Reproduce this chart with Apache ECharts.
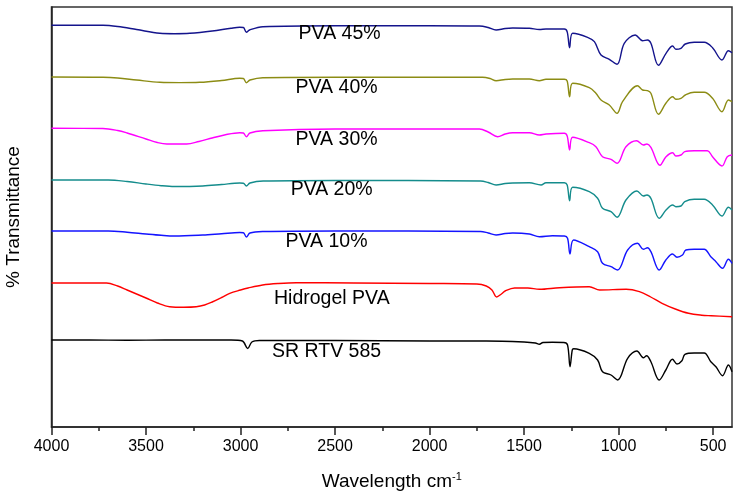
<!DOCTYPE html>
<html>
<head>
<meta charset="utf-8">
<script src="https://cdn.jsdelivr.net/npm/echarts@6/dist/echarts.min.js"></script>
<style>html,body{margin:0;padding:0;background:#fff}#c{width:733px;height:495px}</style>
</head>
<body>
<div id="c"></div>
<script>
// Wavenumber ticks (cm-1)
const majorTicks = [4000, 3500, 3000, 2500, 2000, 1500, 1000, 500];
const minorTicks = [3750, 3250, 2750, 2250, 1750, 1250, 750];
const seriesNames = ['PVA 45%', 'PVA 40%', 'PVA 30%', 'PVA 20%', 'PVA 10%', 'Hidrogel PVA', 'SR RTV 585'];
const seriesColors = ['#14148c', '#8c8c14', '#ff00ff', '#148c8c', '#1414ff', '#ff0000', '#000000'];
// label anchors [wavenumber, offset transmittance]
const labelPos = [[2476, 393], [2492, 339], [2492, 287], [2518, 237], [2545, 185], [2517, 128], [2545, 75]];

// Spectra: [wavenumber, offset % transmittance]
const pva45 = [[4000,401.7],[3728,401.7],[3650,400.5],[3550,397.5],[3427,393.7],[3350,393.3],[3268,393.7],[3150,396],[3050,398.8],[3004,399.7],[2985,399.5],[2969,394.7],[2952,397],[2882,400.3],[2500,401.3],[2000,401.3],[1736,401],[1690,399.5],[1648,397],[1600,398.5],[1560,399],[1472,398.7],[1419,397.5],[1384,398],[1287,398],[1272,395.3],[1259,379.3],[1243,393.7],[1164,389.7],[1128,385.3],[1093,372],[1049,367.7],[1008,362.7],[970,383.7],[912,392],[873,386.3],[847,387],[829,383.7],[789,361.7],[749,373.7],[714,381],[697,377.7],[670,378.7],[647,383],[600,384.7],[547,384.7],[503,379.3],[453,367],[419,376.3],[400,374.3]];
const pva40 = [[4000,350],[3728,349.7],[3650,349],[3550,347],[3427,344.7],[3320,344.4],[3216,344.7],[3100,346.5],[3004,348.7],[2985,348.5],[2969,344.3],[2950,347],[2882,349.3],[2500,349.7],[1720,349.7],[1680,348.5],[1648,346.3],[1600,347.5],[1560,348],[1472,348],[1419,346.3],[1384,347.7],[1287,347.7],[1272,346],[1259,330.3],[1243,343.7],[1155,339.3],[1120,333.7],[1093,327],[1049,322],[1008,313.7],[979,325.3],[900,341.3],[873,337],[847,336.3],[829,333.7],[789,312.7],[749,324],[714,330.3],[697,327.7],[670,328.7],[647,332],[600,334.7],[547,334.7],[503,328.7],[453,315.3],[419,327],[400,325.3]];
const pva30 = [[4000,298.7],[3728,298.5],[3650,296.5],[3600,294],[3500,288],[3440,284.5],[3390,283],[3285,283],[3220,285.5],[3150,289],[3080,292.3],[3004,294.3],[2985,294],[2969,290.3],[2950,294],[2882,296.3],[2500,298],[1736,298],[1690,295],[1640,290.3],[1600,293],[1560,294.3],[1472,294.3],[1419,292],[1384,293],[1287,293.7],[1272,291],[1259,277],[1243,289.7],[1155,284.3],[1120,280.3],[1085,270.3],[1040,267.7],[1008,263.7],[961,280.3],[905,286.3],[869,282],[850,283],[829,279.7],[781,261.7],[749,270.3],[714,274.3],[697,271],[670,272],[650,275.3],[600,276.3],[530,276.3],[503,270.3],[453,261],[425,270.3],[400,272]];
const pva20 = [[4000,247],[3700,247],[3600,245.5],[3500,243],[3420,241.3],[3350,240.5],[3200,241],[3100,242.5],[3004,244],[2985,243.8],[2969,241],[2950,244],[2880,246],[2500,246.5],[1730,246],[1690,244.5],[1648,242],[1600,243.5],[1560,244],[1472,244.3],[1410,242],[1384,244.3],[1287,244.3],[1272,242],[1259,226.3],[1243,239.7],[1155,235.3],[1111,228.7],[1085,218.7],[1040,215.3],[1008,209.7],[961,227],[903,236],[869,231],[850,232],[829,228.7],[785,208.7],[749,217],[714,222],[697,220.3],[670,221],[650,225.3],[600,227.7],[547,227.7],[503,222],[453,211],[419,219.7],[400,217]];
const pva10 = [[4000,196],[3700,196],[3600,194.8],[3500,193],[3420,191.7],[3350,191],[3200,192],[3100,193.3],[3004,194.5],[2985,194.3],[2969,190],[2950,194],[2880,195.5],[2500,196],[1730,195.5],[1690,194],[1648,192],[1600,193.5],[1560,194],[1472,193],[1419,190.3],[1350,191.3],[1287,191],[1270,188.7],[1257,173],[1238,187],[1155,180.3],[1111,175.3],[1085,163.7],[1040,160.3],[1005,157],[952,177],[900,183.7],[869,177.7],[847,179.3],[829,175.3],[785,157],[750,167],[715,173],[691,169.7],[662,172],[644,177],[600,177.7],[547,177.7],[512,170.3],[485,165.3],[450,158.7],[419,167.7],[400,163.7]];
const hidrogel = [[4000,144],[3709,144],[3650,141],[3600,137],[3550,133],[3500,129],[3440,124],[3375,120.3],[3300,119.8],[3234,120.3],[3190,122],[3150,125],[3100,129.5],[3057,133.7],[3000,137],[2960,139],[2883,142],[2800,143.5],[2705,144.3],[2400,144],[2000,143.5],[1750,143],[1700,141],[1670,137],[1645,130],[1620,133],[1600,136],[1550,139],[1480,139],[1419,137.7],[1313,139.3],[1155,140.3],[1100,137],[960,137.7],[890,135.3],[830,130],[770,123.7],[700,118],[630,113.7],[560,111.8],[510,111.3],[400,110.3]];
const sr585 = [[4000,87],[3800,87],[3600,86.7],[3400,87],[3200,87],[3050,87],[2990,86],[2962,78.5],[2940,85],[2900,86.5],[2500,86.5],[2000,86],[1700,86],[1500,85],[1440,84],[1419,82.7],[1400,84.5],[1350,84.7],[1290,84.5],[1270,82],[1257,60.3],[1245,77],[1238,78.3],[1155,73.7],[1111,67],[1085,55.3],[1040,52],[1005,47],[952,68.7],[903,76],[869,69.3],[852,71.3],[829,65.3],[785,47],[750,57],[715,67.7],[691,63],[665,66.3],[649,72.7],[600,74],[547,74],[512,65.3],[485,60.3],[450,51.3],[419,62],[400,55.3]];

const spectra = [pva45, pva40, pva30, pva20, pva10, hidrogel, sr585];
const FONT = 'Liberation Sans, Arial, sans-serif';

const chart = echarts.init(document.getElementById('c'), null, {renderer: 'canvas'});
const series = spectra.map((d, i) => ({
  name: seriesNames[i],
  type: 'line',
  xAxisIndex: 0,
  data: d,
  showSymbol: false,
  smooth: 0.35,
  lineStyle: {color: seriesColors[i], width: 1.4},
  itemStyle: {color: seriesColors[i]},
  animation: false,
  silent: true,
  markPoint: {
    symbol: 'circle',
    symbolSize: 1,
    itemStyle: {color: 'rgba(0,0,0,0)'},
    label: {show: true, position: 'inside', color: '#000', fontSize: 19.5, fontFamily: FONT, formatter: seriesNames[i]},
    data: [{coord: labelPos[i]}]
  }
}));

chart.setOption({
  animation: false,
  backgroundColor: '#fff',
  grid: {left: 51.5, right: 1, top: 7, bottom: 68, containLabel: false, outerBoundsMode: 'none', show: true, borderColor: '#333', borderWidth: 1.5, backgroundColor: 'transparent'},
  xAxis: [{
    type: 'value', inverse: true, min: 400, max: 4000,
    position: 'bottom',
    name: '{a|Wavelength cm}{s|-1}', nameLocation: 'middle', nameGap: 44,
    nameTextStyle: {rich: {a: {fontSize: 19, fontFamily: FONT, color: '#000'}, s: {fontSize: 11, fontFamily: FONT, color: '#000', padding: [0, 0, 10, 0]}}},
    axisLine: {show: true, onZero: false, lineStyle: {color: '#222', width: 1.5}},
    axisTick: {show: true, inside: false, length: 8, customValues: majorTicks, lineStyle: {color: '#222', width: 1.5}},
    axisLabel: {show: true, customValues: majorTicks, margin: 12, fontSize: 16, fontFamily: FONT, color: '#000', formatter: v => String(v)},
    splitLine: {show: false}
  }, {
    type: 'value', inverse: true, min: 400, max: 4000,
    position: 'bottom',
    axisLine: {show: false, onZero: false},
    axisTick: {show: true, inside: false, length: 4, customValues: minorTicks, lineStyle: {color: '#222', width: 1.5}},
    axisLabel: {show: false, customValues: minorTicks},
    splitLine: {show: false}
  }],
  yAxis: {
    type: 'value', min: 0, max: 420,
    name: '% Transmittance', nameLocation: 'middle', nameGap: 28,
    nameTextStyle: {fontSize: 19, fontFamily: FONT, color: '#000'},
    axisLine: {show: true, lineStyle: {color: '#222', width: 1.5}},
    axisTick: {show: false},
    axisLabel: {show: false},
    splitLine: {show: false}
  },
  series: series
});
</script>
</body>
</html>
